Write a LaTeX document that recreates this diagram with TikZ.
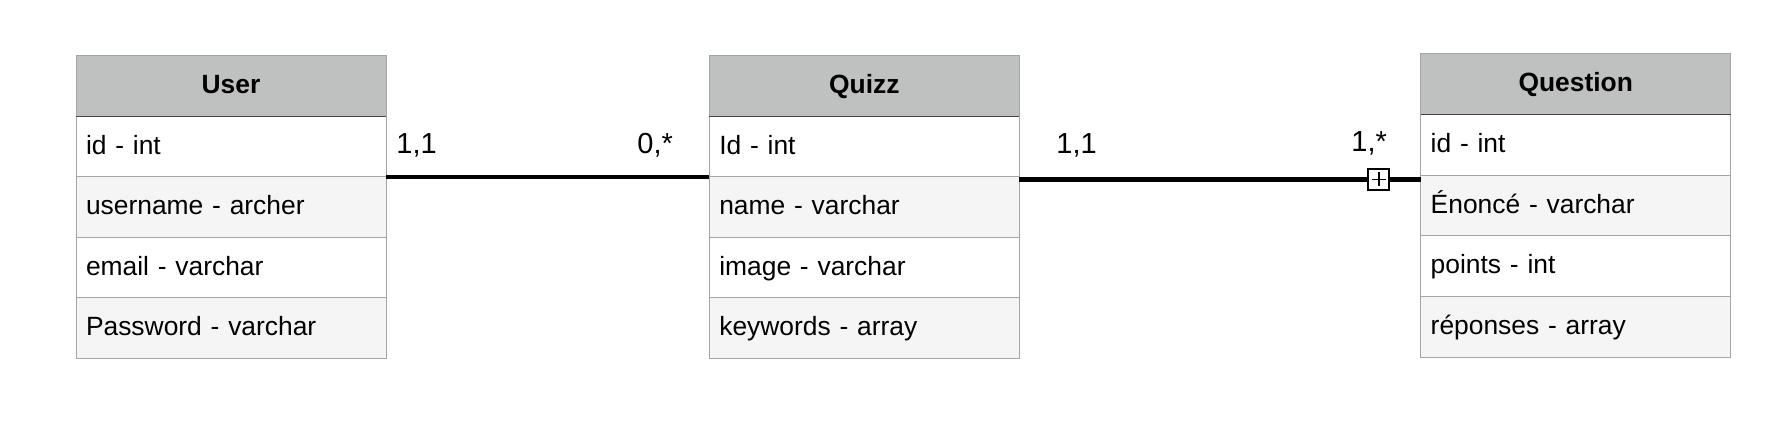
\documentclass[tikz,border=0pt]{standalone}
\usepackage{fontspec}
\setmainfont{Liberation Sans}
\definecolor{hdrgray}{RGB}{191,193,192}
\definecolor{bordergray}{RGB}{165,165,165}
\definecolor{rowgray}{RGB}{245,245,245}
\definecolor{hdrline}{RGB}{70,70,70}
\tikzset{
  hdr/.style={draw=bordergray, fill=hdrgray, line width=0.5pt, anchor=north west,
    minimum width=155pt, minimum height=30.5pt, inner sep=0pt, outer sep=0pt,
    text height=9.6pt, text depth=2.3pt,
    font=\bfseries\fontsize{13.2}{15}\selectfont},
  rowbase/.style={draw=bordergray, line width=0.5pt, anchor=north west,
    minimum height=30.25pt, inner xsep=5pt, inner ysep=0pt, outer sep=0pt, text width=145pt,
    align=left, text height=9.6pt, text depth=2.3pt,
    font=\fontsize{13.2}{15}\selectfont},
  rowW/.style={rowbase, fill=white},
  rowG/.style={rowbase, fill=rowgray},
  hline/.style={draw=hdrline, line width=0.5pt},
  conn/.style={draw=black, line width=2.35pt},
  lbl/.style={anchor=base west, inner sep=0pt, font=\fontsize{14.5}{17}\selectfont},
  sqbox/.style={draw=black, fill=white, line width=1pt, minimum size=10.5pt, inner sep=0pt, outer sep=0pt},
  plusline/.style={draw=black, line width=0.75pt}
}
\begin{document}
\begin{tikzpicture}[x=0.5pt,y=-0.5pt]
\useasboundingbox (0,0) rectangle (1786,432);
% User
\node[hdr] (uh) at (76,55.5) {User};
\node[rowW] (ur1) at (uh.south west) {id - int};
\node[rowG] (ur2) at (ur1.south west) {username - archer};
\node[rowW] (ur3) at (ur2.south west) {email - varchar};
\node[rowG] (ur4) at (ur3.south west) {Password - varchar};
% Quizz
\node[hdr] (qzh) at (709.3,55.5) {Quizz};
\node[rowW] (qzr1) at (qzh.south west) {Id - int};
\node[rowG] (qzr2) at (qzr1.south west) {name - varchar};
\node[rowW] (qzr3) at (qzr2.south west) {image - varchar};
\node[rowG] (qzr4) at (qzr3.south west) {keywords - array};
% Question
\node[hdr] (qh) at (1420.7,54) {Question};
\node[rowW] (qr1) at (qh.south west) {id - int};
\node[rowG] (qr2) at (qr1.south west) {Énoncé - varchar};
\node[rowW] (qr3) at (qr2.south west) {points - int};
\node[rowG] (qr4) at (qr3.south west) {réponses - array};
% header separators
\draw[hline] (uh.south west) -- (uh.south east);
\draw[hline] (qzh.south west) -- (qzh.south east);
\draw[hline] (qh.south west) -- (qh.south east);
% connectors
\draw[conn] (ur1.south east) -- (qzr1.south west |- ur1.south east);
\node[sqbox] (sq) at (1378.8,179.4) {};
\draw[conn] (qzr1.south east |- sq.center) -- (sq.west);
\draw[conn] (sq.east) -- (qr1.south west |- sq.center);
\draw[plusline] (sq.center) ++(-7,0) -- ++(14,0);
\draw[plusline] (sq.center) ++(0,-7) -- ++(0,14);
% cardinalities
\node[lbl] (c1) at (396,153.3) {1,1};
\node[lbl] (c2) at (637,153.3) {0,*};
\node[lbl] (c3) at (1056,153.3) {1,1};
\node[lbl] (c4) at (1351,151.7) {1,*};
\end{tikzpicture}
\end{document}
